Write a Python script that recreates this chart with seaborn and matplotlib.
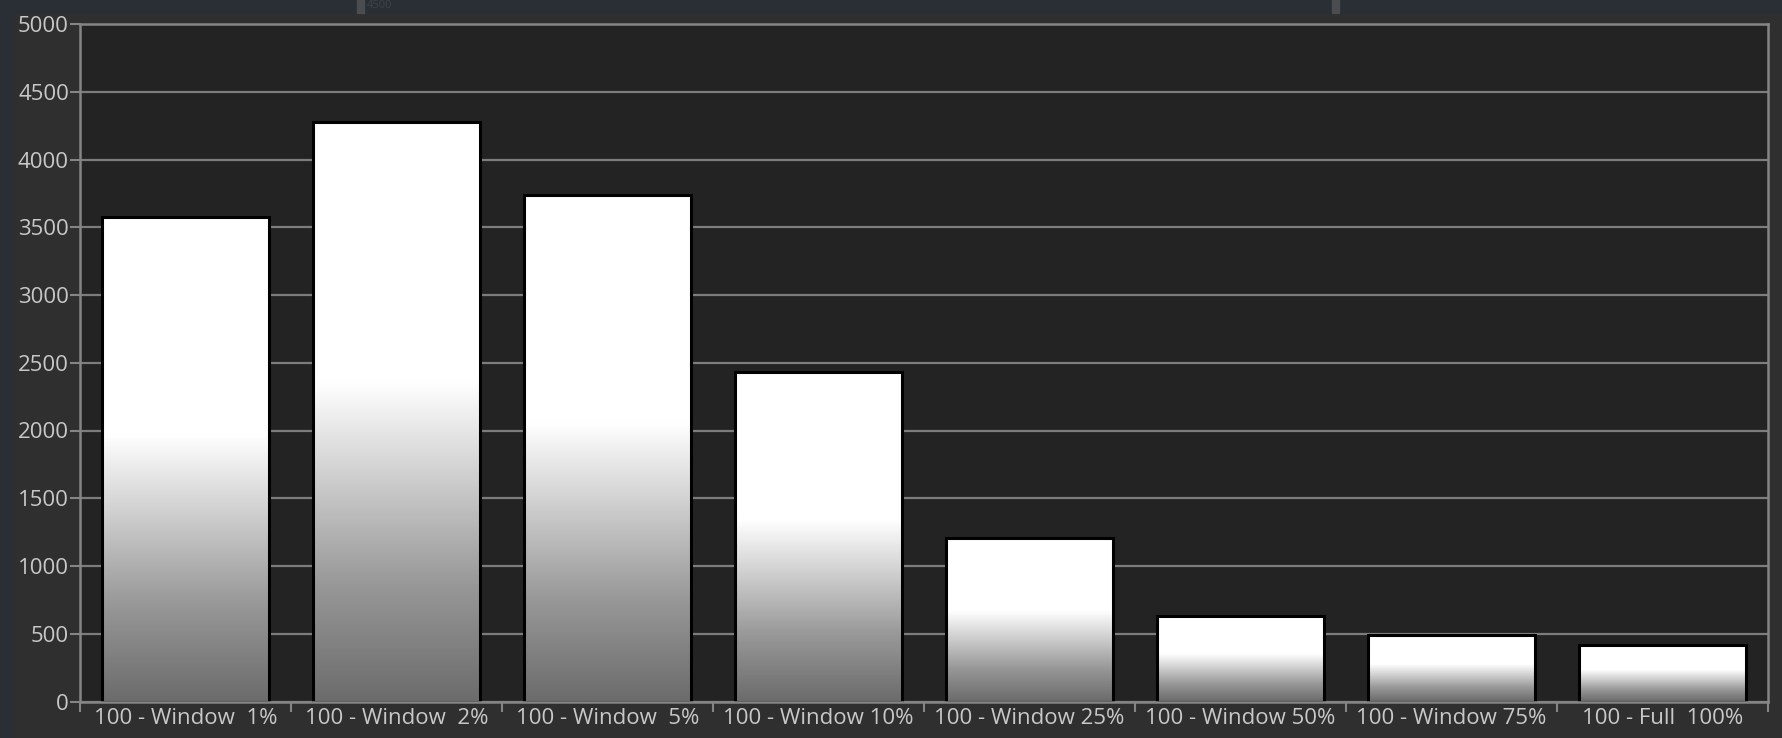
import numpy as np
import pandas as pd
import matplotlib.pyplot as plt
import seaborn as sns
from matplotlib.colors import LinearSegmentedColormap
from matplotlib.patches import Rectangle

# Data
categories = ['100 - Window  1%', '100 - Window  2%', '100 - Window  5%',
              '100 - Window 10%', '100 - Window 25%', '100 - Window 50%',
              '100 - Window 75%', '100 - Full  100%']
luminance = [3572, 4274, 3737, 2430, 1209, 630, 492, 417]
y_ticks = [0, 500, 1000, 1500, 2000, 2500, 3000, 3500, 4000, 4500, 5000]

df = pd.DataFrame({'pattern': categories, 'nits': luminance})

sns.set_style('dark')
plt.rcParams['font.family'] = ['Open Sans', 'DejaVu Sans']

fig = plt.figure(figsize=(17.83, 7.38), dpi=100, facecolor='#2f2f2f')
ax = fig.add_axes([80 / 1783, 1 - 701.5 / 738, 1688 / 1783, 677.5 / 738])
ax.set_facecolor('#232323')

# window-style chrome around the plot
fig.patches.append(Rectangle((0, 0), 13 / 1783, 1, transform=fig.transFigure,
                             color='#2a2f35', zorder=-1))
fig.patches.append(Rectangle((0, 1 - 13 / 738), 1, 13 / 738, transform=fig.transFigure,
                             color='#2a2f35', zorder=-1))
fig.patches.append(Rectangle((357 / 1783, 1 - 13 / 738), 7 / 1783, 13 / 738,
                             transform=fig.transFigure, color='#4a4d50', zorder=0))
fig.patches.append(Rectangle((1332 / 1783, 1 - 13 / 738), 7 / 1783, 13 / 738,
                             transform=fig.transFigure, color='#4a4d50', zorder=0))
fig.text(367 / 1783, 1 - 6 / 738, '4500', color='#3f4347', fontsize=8, va='center')

sns.barplot(data=df, x='pattern', y='nits', ax=ax, width=0.787,
            color='white', edgecolor='black', linewidth=2.2, saturation=1, zorder=3)

# vertical white-to-gray gradient inside each bar
grad_cmap = LinearSegmentedColormap.from_list(
    'bar', [(0, '#6c6c6c'), (0.2, '#989898'), (0.55, '#ffffff'), (1, '#ffffff')])
grad = np.linspace(0, 1, 256).reshape(-1, 1)
for p in ax.patches:
    x0, y0 = p.get_x(), p.get_y()
    w, h = p.get_width(), p.get_height()
    im = ax.imshow(grad, cmap=grad_cmap, origin='lower', aspect='auto',
                   extent=[x0, x0 + w, y0, y0 + h], zorder=2.5)
    im.set_clip_path(p)
    p.set_facecolor('none')

ax.set_xlim(-0.5, len(categories) - 0.5)
ax.set_ylim(0, 5000)
ax.set_yticks(y_ticks)
ax.set_yticklabels([str(t) for t in y_ticks])
ax.set_xticks(np.arange(len(categories)))
ax.set_xticklabels(categories)
ax.set_xticks(np.arange(-0.5, len(categories)), minor=True)
ax.set_xlabel('')
ax.set_ylabel('')

ax.grid(False)
for t in y_ticks:
    ax.axhline(t, color='#7d7d7d', linewidth=1.6, zorder=1)

for side in ['left', 'bottom', 'right', 'top']:
    ax.spines[side].set_visible(True)
    ax.spines[side].set_color('#858585')
    ax.spines[side].set_linewidth(1.8)
    ax.spines[side].set_zorder(4)

ax.tick_params(axis='y', colors='#c8c8c8', labelsize=16, length=7, width=1.5,
               pad=1, left=True, color='#858585')
ax.tick_params(axis='x', which='major', colors='#c8c8c8', labelsize=16,
               length=0, pad=5)
ax.tick_params(axis='x', which='minor', length=7, width=1.5, color='#858585',
               bottom=True)

fig.savefig('out.png', dpi=100, facecolor=fig.get_facecolor())
plt.close(fig)
